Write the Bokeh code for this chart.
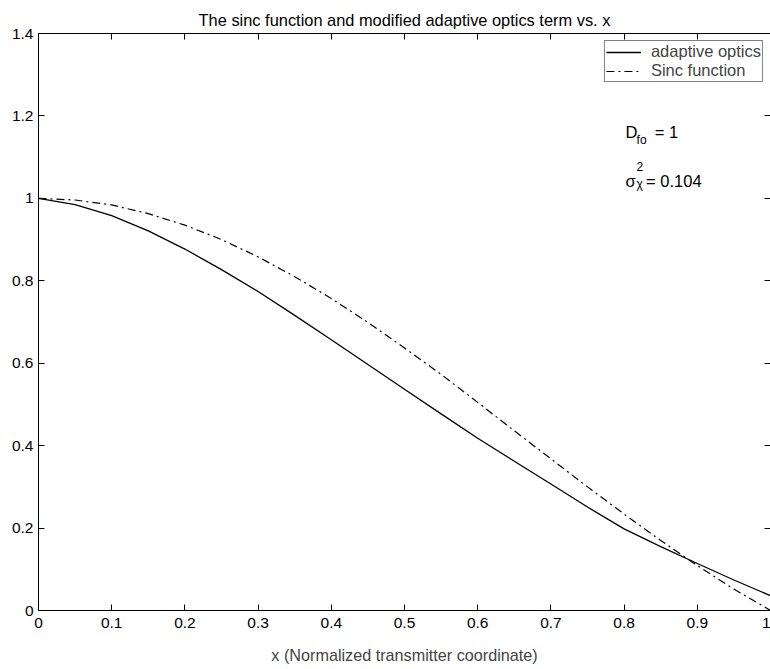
from bokeh.plotting import figure
from bokeh.models import (LinearAxis, Range1d, FixedTicker, Label, Legend, LegendItem,
                          CustomLabelingPolicy)
from bokeh.embed import file_html
from bokeh.resources import INLINE

# ---- data ----
x_vals = [0.00, 0.05, 0.10, 0.15, 0.20, 0.25, 0.30, 0.35, 0.40, 0.45, 0.50,
          0.55, 0.60, 0.65, 0.70, 0.75, 0.80, 0.85, 0.90, 0.95, 1.00]
adaptive_optics = [1.000, 0.985, 0.958, 0.921, 0.877, 0.827, 0.774, 0.716, 0.657, 0.597, 0.537,
                   0.477, 0.418, 0.362, 0.307, 0.251, 0.198, 0.155, 0.114, 0.074, 0.036]
sinc_function = [1.000, 0.996, 0.984, 0.963, 0.935, 0.900, 0.858, 0.810, 0.757, 0.699, 0.637,
                 0.573, 0.505, 0.436, 0.368, 0.300, 0.234, 0.170, 0.109, 0.052, 0.000]

x_ticks = [0, 0.1, 0.2, 0.3, 0.4, 0.5, 0.6, 0.7, 0.8, 0.9, 1]
x_tick_labels = ["0", "0.1", "0.2", "0.3", "0.4", "0.5", "0.6", "0.7", "0.8", "0.9", "1"]
y_ticks = [0, 0.2, 0.4, 0.6, 0.8, 1, 1.2, 1.4]
y_tick_labels = ["0", "0.2", "0.4", "0.6", "0.8", "1", "1.2", "1.4"]

title_text = "The sinc function and modified adaptive optics term vs. x"
x_label = "x (Normalized transmitter coordinate)"

FONT = "Liberation Sans"

p = figure(width=770, height=669, output_backend="svg", toolbar_location=None,
           x_range=Range1d(0, 1), y_range=Range1d(0, 1.4),
           min_border_left=38, min_border_right=0, min_border_top=33, min_border_bottom=59)
p.outline_line_color = None
p.xgrid.visible = False
p.ygrid.visible = False
p.background_fill_color = "white"
p.border_fill_color = "white"

p.title.text = title_text
p.title.align = "center"
p.title.text_font = FONT
p.title.text_font_size = "16.4px"
p.title.text_font_style = "normal"
p.title.text_color = "black"
p.title.standoff = 9
p.title.offset = 0

no_labels = CustomLabelingPolicy(code="return new indices.constructor(indices.size)")

def style_axis(ax, ticks, labels, show_labels=True):
    ax.ticker = FixedTicker(ticks=ticks)
    ax.minor_tick_line_color = None
    ax.major_tick_in = 6
    ax.major_tick_out = 0
    ax.axis_line_color = "black"
    ax.axis_line_width = 1
    ax.major_tick_line_color = "black"
    ax.major_label_text_font = FONT
    ax.major_label_text_font_size = "15.5px"
    ax.major_label_text_color = "black"
    if show_labels:
        ax.major_label_overrides = {t: l for t, l in zip(ticks, labels)}
    else:
        ax.major_label_overrides = {t: "" for t in ticks}
        ax.major_label_text_font_size = "1px"
        ax.major_label_standoff = 0
        ax.major_label_policy = no_labels

style_axis(p.xaxis[0], x_ticks, x_tick_labels)
p.xaxis[0].major_label_standoff = 7
p.xaxis[0].axis_label = x_label
p.xaxis[0].axis_label_text_font = FONT
p.xaxis[0].axis_label_text_font_size = "16.2px"
p.xaxis[0].axis_label_text_font_style = "normal"
p.xaxis[0].axis_label_standoff = 15

style_axis(p.yaxis[0], y_ticks, y_tick_labels)
p.yaxis[0].major_label_standoff = 5

top_ax = LinearAxis()
style_axis(top_ax, x_ticks, x_tick_labels, show_labels=False)
p.add_layout(top_ax, "above")

right_ax = LinearAxis()
style_axis(right_ax, y_ticks, y_tick_labels, show_labels=False)
right_ax.axis_line_color = None
p.add_layout(right_ax, "right")

r1 = p.line(x_vals, adaptive_optics, line_color="black", line_width=1.3)
r2 = p.line(x_vals, sinc_function, line_color="black", line_width=1.2, line_dash="8 4 2 4")

legend = Legend(items=[LegendItem(label="adaptive optics", renderers=[r1]),
                       LegendItem(label="Sinc function", renderers=[r2])],
                location="top_right")
legend.margin = 7
legend.padding = 1
legend.spacing = 0
legend.label_height = 18
legend.glyph_height = 18
legend.glyph_width = 35
legend.label_standoff = 10
legend.label_text_font = FONT
legend.label_text_font_size = "16.5px"
legend.label_text_line_height = 1.0
legend.border_line_color = "black"
legend.border_line_width = 1
legend.background_fill_alpha = 1
p.add_layout(legend)

def lab(x, y, t, size="16.5px"):
    p.add_layout(Label(x=x, y=y, text=t, text_font=FONT, text_font_size=size,
                       text_baseline="alphabetic", text_align="left", text_color="black"))

lab(0.802, 1.162, "D")
lab(0.817, 1.141, "fo", "12px")
lab(0.842, 1.162, "= 1")
lab(0.802, 1.043, "σ")
lab(0.817, 1.077, "2", "12px")
lab(0.817, 1.036, "χ", "12px")
lab(0.830, 1.043, "= 0.104")

open("out.html", "w").write(file_html(p, INLINE))
